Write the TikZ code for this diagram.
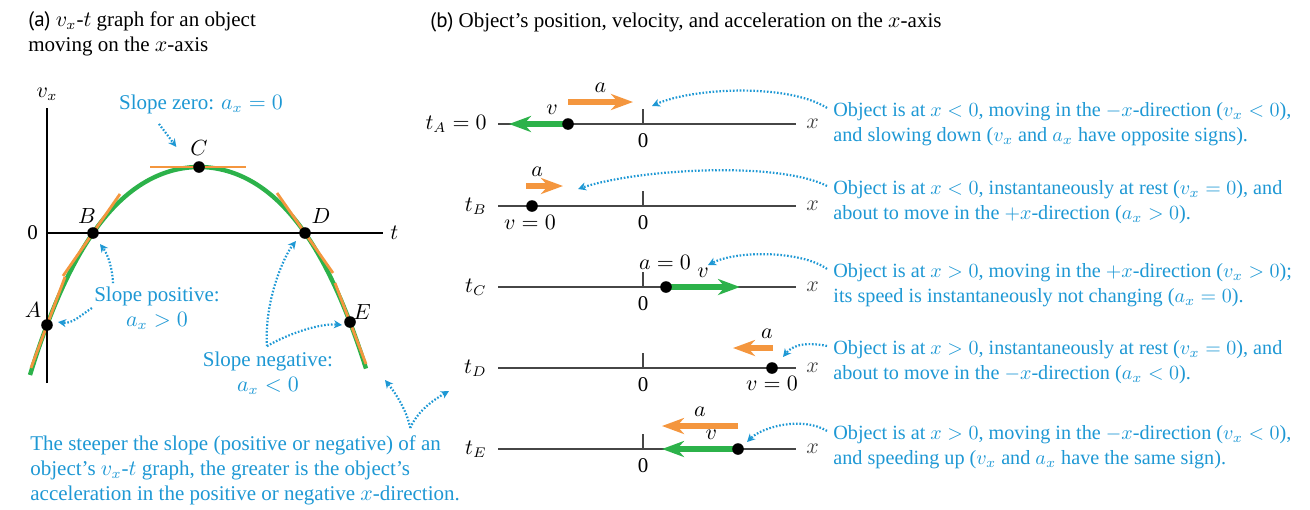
\documentclass[tikz,border=0pt]{standalone}
\usepackage{fontspec}
\setmainfont{Liberation Serif}
\newfontfamily\partfont{PT Sans}
\usetikzlibrary{arrows.meta,positioning}

\definecolor{noteblue}{RGB}{30,152,212}
\definecolor{curvegreen}{RGB}{44,178,74}
\definecolor{slopeorange}{RGB}{244,150,62}
\definecolor{axisgray}{RGB}{70,70,70}

\pgfdeclarelayer{back}
\pgfsetlayers{back,main}

\begin{document}
\begin{tikzpicture}[
    x=0.5pt, y=-0.5pt,
    every node/.style={font=\fontsize{10.5}{12.5}\selectfont},
    dot/.style={circle, fill=black, inner sep=0pt, minimum size=5.8pt},
    note/.style={text=noteblue, align=left, inner sep=0pt},
    rownote/.style={note, anchor=west, font=\fontsize{10.1}{12.5}\selectfont},
    pointer/.style={noteblue, line width=1.1pt, dash pattern=on 0.8pt off 0.9pt,
        -{Stealth[length=4pt,width=4pt,inset=1.2pt]}},
    tangent/.style={slopeorange, line width=1.4pt},
    vel/.style={curvegreen, line width=2.8pt, -{Stealth[length=11pt,width=8pt,inset=3.5pt]}},
    acc/.style={slopeorange, line width=2.8pt, -{Stealth[length=11pt,width=8pt,inset=3.5pt]}},
    veclabel/.style={text=black, above},
    xaxis/.style={axisgray, line width=0.8pt},
    declare function={vxt(\u)=167+49.6*\u*\u+8.13*\u*\u*\u*\u;}
]
\useasboundingbox (0,0) rectangle (1310,509);

% (a) v_x-t graph
\node[anchor=west, align=left, inner sep=0pt] (titleA) at (28,34)
    {{\partfont (a)} $v_x$-$t$ graph for an object\\moving on the $x$-axis};
\draw[line width=0.6pt] (47,383) -- (47,108) node[above] {$v_x$};
\draw[line width=0.6pt] (47,233) -- (383,233) node[right] {$t$};
\node[left] at (45,233) {0};

\node[dot] (ptA) at (47,325) {};
\node[dot] (ptB) at (93,233) {};
\node[dot] (ptC) at (199,167) {};
\node[dot] (ptD) at (305,233) {};
\node[dot] (ptE) at (350,322) {};
\node (labA) at ([shift={(-14,-15)}]ptA) {$A$};
\node (labB) at ([shift={(-6,-17)}]ptB) {$B$};
\node (labC) at ([shift={(0,-19)}]ptC) {$C$};
\node (labD) at ([shift={(16,-17)}]ptD) {$D$};
\node (labE) at ([shift={(12,-10)}]ptE) {$E$};

\begin{pgfonlayer}{back}
  \draw[curvegreen, line width=2.2pt] plot[domain=30:366, samples=100, smooth]
      (\x, {vxt((\x-199)/100)});
  \draw[tangent] ([shift={(-49,0)}]ptC.center) -- ([shift={(47,0)}]ptC.center);
  \draw[tangent] ([shift={(-30,43)}]ptB.center) -- ([shift={(27,-39)}]ptB.center);
  \draw[tangent] ([shift={(-28,-40)}]ptD.center) -- ([shift={(28,40)}]ptD.center);
  \draw[tangent] ([shift={(-16,43)}]ptA.center) -- ([shift={(18,-48)}]ptA.center);
  \draw[tangent] ([shift={(-15,-39)}]ptE.center) -- ([shift={(16,42)}]ptE.center);
\end{pgfonlayer}

\node[note] (zeroNote) at (201,104) {Slope zero: $a_x = 0$};
\node[note, align=center] (posNote) at (157,308) {Slope positive:\\$a_x > 0$};
\node[note, align=center] (negNote) at (268,373) {Slope negative:\\$a_x < 0$};
\node[note, anchor=west] (steepNote) at (30,470)
    {The steeper the slope (positive or negative) of an\\
     object’s $v_x$-$t$ graph, the greater is the object’s\\
     acceleration in the positive or negative $x$-direction.};

\draw[pointer] ([shift={(-42,10)}]zeroNote.south) -- ([shift={(-7,-1)}]labC.west);
\draw[pointer] ([shift={(-44,-3)}]posNote.north) .. controls +(-1,-20) and +(6,8) .. ([shift={(7,11)}]ptB.center);
\draw[pointer] ([xshift=-1pt]posNote.west) .. controls +(-12,8) and +(14,2) .. ([shift={(11,-3)}]ptA.center);
\draw[pointer] ([shift={(-1,-5)}]negNote.north) .. controls +(-3,-45) and +(-12,15) .. ([shift={(-9,8)}]ptD.center);
\draw[pointer] ([shift={(-1,-5)}]negNote.north) .. controls +(20,-12) and +(-22,-2) .. ([shift={(-8,3)}]ptE.center);
\coordinate (steepL) at ([shift={(35,58)}]ptE.center);
\coordinate (steepR) at (449,391);
\draw[pointer] ([shift={(-50,-7)}]steepNote.north east) .. controls +(-4,-20) and +(8,10) .. (steepL);
\draw[pointer] ([shift={(-50,-7)}]steepNote.north east) .. controls +(8,-18) and +(-14,8) .. (steepR);

% (b) position, velocity, acceleration
\node[anchor=west, inner sep=0pt] (titleB) at (430,22)
    {{\partfont (b)} Object’s position, velocity, and acceleration on the $x$-axis};

\begin{pgfonlayer}{back}
\foreach \name/\lab/\y in {A/{t_A = 0}/124, B/t_B/206, C/t_C/287, D/t_D/368, E/t_E/449} {
  \draw[xaxis] (498,\y) -- (796,\y) node[right=1.5pt] {$x$};
  \draw[xaxis] (643,\y) -- (643,{\y-15});
  \node at (643,{\y+17}) {0};
  \node[anchor=east, inner sep=0pt] (t\name) at (487,\y) {$\lab$};
}
\end{pgfonlayer}

\node[dot] (objA) at (568,124) {};
\node[dot] (objB) at (532,206) {};
\node[dot] (objC) at (666,287) {};
\node[dot] (objD) at (772,368) {};
\node[dot] (objE) at (738,449) {};

\begin{pgfonlayer}{back}
  \draw[vel] (objA.center) -- ++(-59,0) node[pos=0.27, veclabel] {$v$};
  \draw[acc] ([shift={(0,-22)}]objA.center) -- ++(65,0) node[midway, veclabel] {$a$};
  \draw[acc] ([shift={(-6,-20)}]objB.center) -- ++(37,0) node[pos=0.3, veclabel] {$a$};
  \draw[vel] (objC.center) -- ++(74,0) node[midway, veclabel] {$v$};
  \draw[acc] ([shift={(1,-20)}]objD.center) -- ++(-40,0) node[pos=0.15, veclabel] {$a$};
  \draw[vel] (objE.center) -- ++(-76,0) node[pos=0.35, veclabel] {$v$};
  \draw[acc] ([shift={(0,-23)}]objE.center) -- ++(-76,0) node[midway, veclabel] {$a$};
\end{pgfonlayer}
\node at ([shift={(-2,16)}]objB) {$v = 0$};
\node at ([shift={(-1,-25)}]objC) {$a = 0$};
\node at ([shift={(0,15)}]objD) {$v = 0$};

\node[rownote] (noteA) at (833,124)
    {Object is at $x<0$, moving in the $-x$-direction ($v_x<0$),\\
     and slowing down ($v_x$ and $a_x$ have opposite signs).};
\node[rownote] (noteB) at (833,202)
    {Object is at $x<0$, instantaneously at rest ($v_x=0$), and\\
     about to move in the $+x$-direction ($a_x>0$).};
\node[rownote] (noteC) at (833,285)
    {Object is at $x>0$, moving in the $+x$-direction ($v_x>0$);\\
     its speed is instantaneously not changing ($a_x=0$).};
\node[rownote] (noteD) at (833,362)
    {Object is at $x>0$, instantaneously at rest ($v_x=0$), and\\
     about to move in the $-x$-direction ($a_x<0$).};
\node[rownote] (noteE) at (833,447)
    {Object is at $x>0$, moving in the $-x$-direction ($v_x<0$),\\
     and speeding up ($v_x$ and $a_x$ have the same sign).};

\draw[pointer] ([shift={(-6,6)}]noteA.north west) .. controls +(-40,-25) and +(40,-18) .. ([shift={(84,-18)}]objA.center);
\draw[pointer] ([shift={(-6,6)}]noteB.north west) .. controls +(-50,-25) and +(60,-20) .. ([shift={(46,-17)}]objB.center);
\draw[pointer] ([shift={(-6,6)}]noteC.north west) .. controls +(-25,-18) and +(30,-15) .. ([shift={(42,-22)}]objC.center);
\draw[pointer] ([shift={(-6,6)}]noteD.north west) .. controls +(-25,-5) and +(8,-10) .. ([shift={(11,-11)}]objD.center);
\draw[pointer] ([shift={(-6,6)}]noteE.north west) .. controls +(-25,-15) and +(15,-15) .. ([shift={(9,-7)}]objE.center);
\end{tikzpicture}
\end{document}
